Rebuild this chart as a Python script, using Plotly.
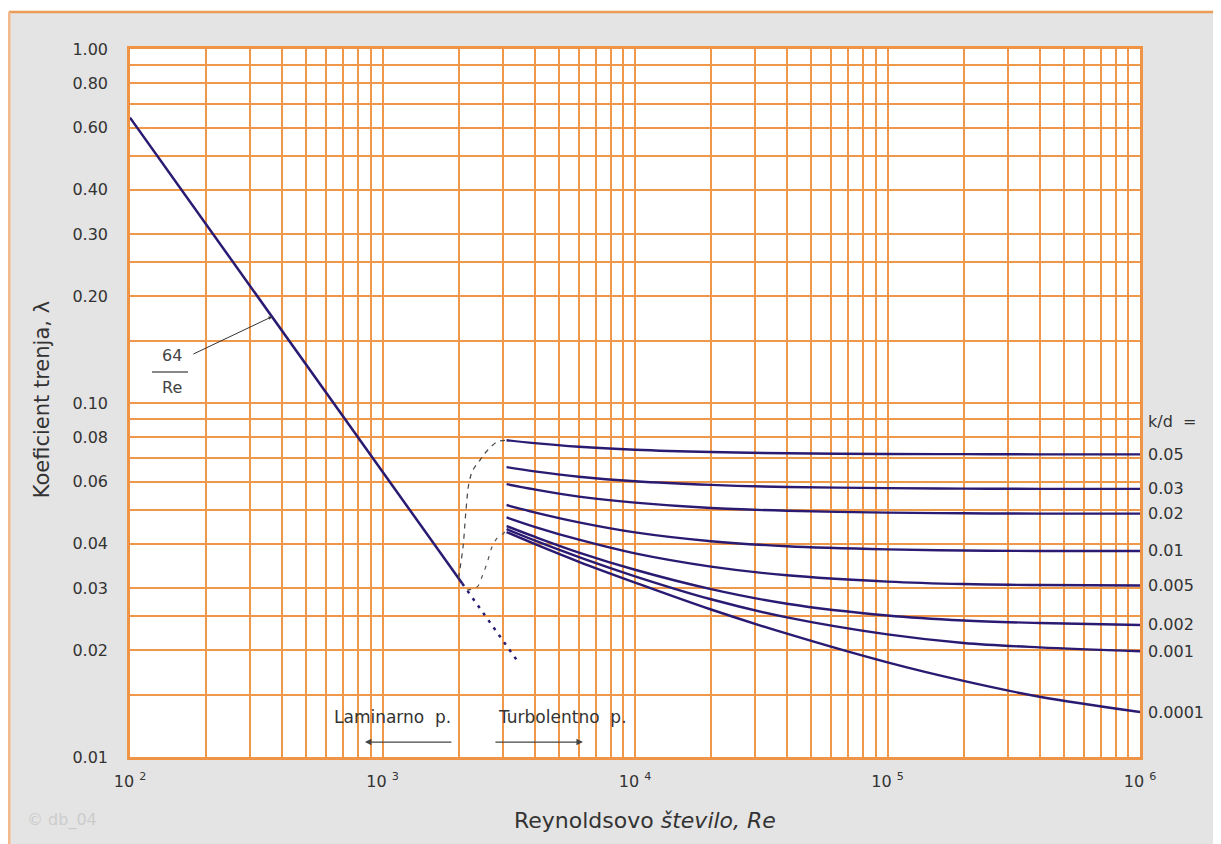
import numpy as np
import plotly.graph_objects as go

# ---------------- data ----------------
re_turb = [3100, 4000, 6000, 1e4, 2e4, 4e4, 1e5, 2e5, 4e5, 1e6]
kd_labels = ["0.05", "0.03", "0.02", "0.01", "0.005", "0.002", "0.001", "0.0001"]
lam_005 = [0.0785, 0.0770, 0.0752, 0.0738, 0.0727, 0.0721, 0.0718, 0.0717, 0.0716, 0.0716]
lam_003 = [0.0659, 0.0641, 0.0619, 0.0601, 0.0587, 0.0579, 0.0575, 0.0573, 0.0572, 0.0572]
lam_002 = [0.0590, 0.0570, 0.0544, 0.0523, 0.0505, 0.0496, 0.0490, 0.0488, 0.0487, 0.0487]
lam_001 = [0.0515, 0.0491, 0.0460, 0.0431, 0.0407, 0.0394, 0.0386, 0.0383, 0.0382, 0.0382]
lam_0005 = [0.0475, 0.0447, 0.0411, 0.0376, 0.0345, 0.0326, 0.0313, 0.0308, 0.0306, 0.0305]
lam_0002 = [0.0449, 0.0419, 0.0378, 0.0338, 0.0298, 0.0271, 0.0251, 0.0243, 0.0239, 0.0236]
lam_0001 = [0.0440, 0.0409, 0.0367, 0.0324, 0.0279, 0.0248, 0.0222, 0.0210, 0.0204, 0.0199]
lam_00001 = [0.0432, 0.0400, 0.0356, 0.0311, 0.0261, 0.0223, 0.0185, 0.0164, 0.0148, 0.0134]
turb_series = [lam_005, lam_003, lam_002, lam_001, lam_0005, lam_0002, lam_0001, lam_00001]

re_lam = [100, 2070]
lam_lam = [0.64, 0.0309]
re_lam_ext = [2070, 3400]
lam_lam_ext = [0.0309, 0.0188]

re_trans_a = [2000, 2084, 2141, 2200, 2282, 2433, 2570, 2841, 3100]
lam_trans_a = [0.0320, 0.0392, 0.0498, 0.0594, 0.0647, 0.0690, 0.0727, 0.0776, 0.0785]
re_trans_b = [2160, 2368, 2477, 2594, 2714, 2867, 3001, 3150]
lam_trans_b = [0.0296, 0.0302, 0.0323, 0.0353, 0.0392, 0.0418, 0.0427, 0.0446]

y_tickvals = [0.01, 0.02, 0.03, 0.04, 0.06, 0.08, 0.1, 0.2, 0.3, 0.4, 0.6, 0.8, 1.0]
y_ticktext = ["0.01", "0.02", "0.03", "0.04", "0.06", "0.08", "0.10",
              "0.20", "0.30", "0.40", "0.60", "0.80", "1.00"]
y_grid = [0.015, 0.025, 0.05, 0.07, 0.09, 0.15, 0.25, 0.5, 0.7, 0.9]
x_tickvals = [1e2, 1e3, 1e4, 1e5, 1e6]
x_ticktext = ["10 <sup>2</sup>", "10 <sup>3</sup>", "10 <sup>4</sup>", "10 <sup>5</sup>", "10 <sup>6</sup>"]
x_grid = [k * 10 ** n for n in range(2, 6) for k in range(2, 10)]

# ---------------- style ----------------
FONT = "DejaVu Sans, sans-serif"
NAVY = "#2a1a72"
ORANGE = "#f0984a"
TXT = "#333333"

fig = go.Figure()

fig.add_trace(go.Scatter(x=re_lam, y=lam_lam, mode="lines",
                         line=dict(color=NAVY, width=2.5), hoverinfo="skip"))
fig.add_trace(go.Scatter(x=re_lam_ext, y=lam_lam_ext, mode="lines",
                         line=dict(color=NAVY, width=2.5, dash="3px,6px"), hoverinfo="skip"))
fig.add_trace(go.Scatter(x=re_trans_a, y=lam_trans_a, mode="lines", line_shape="spline",
                         line=dict(color="#444444", width=1.2, dash="5px,5px"), hoverinfo="skip"))
fig.add_trace(go.Scatter(x=re_trans_b, y=lam_trans_b, mode="lines", line_shape="spline",
                         line=dict(color="#555555", width=1.2, dash="4px,6px"), hoverinfo="skip"))
for lam in turb_series:
    fig.add_trace(go.Scatter(x=re_turb, y=lam, mode="lines", line_shape="spline",
                             line=dict(color=NAVY, width=2.4), hoverinfo="skip"))

annotations = []
# right labels
annotations.append(dict(xref="paper", yref="y", x=1.006, y=np.log10(0.0885), text="k/d  =",
                        showarrow=False, xanchor="left", yanchor="middle",
                        font=dict(family=FONT, size=16, color=TXT)))
for lab, lam in zip(kd_labels, turb_series):
    annotations.append(dict(xref="paper", yref="y", x=1.006, y=np.log10(lam[-1]), text=lab,
                            showarrow=False, xanchor="left", yanchor="middle",
                            font=dict(family=FONT, size=16, color=TXT)))
# 64/Re fraction
annotations.append(dict(xref="x", yref="y", x=np.log10(146), y=np.log10(0.1365), text="64",
                        showarrow=False, font=dict(family=FONT, size=16, color="#444444")))
annotations.append(dict(xref="x", yref="y", x=np.log10(146), y=np.log10(0.1103), text="Re",
                        showarrow=False, font=dict(family=FONT, size=16, color="#444444")))
annotations.append(dict(xref="x", yref="y", x=np.log10(365), y=np.log10(64 / 365), text=" ",
                        showarrow=True, ax=-82, ay=39, arrowhead=2, arrowsize=0.7,
                        arrowwidth=1, arrowcolor="#333333", standoff=0))
# laminar / turbulent
annotations.append(dict(xref="x", yref="y", x=np.log10(1100), y=np.log10(0.01297),
                        text="Laminarno  p.", showarrow=False,
                        font=dict(family=FONT, size=17, color=TXT)))
annotations.append(dict(xref="x", yref="y", x=np.log10(5140), y=np.log10(0.01297),
                        text="Turbolentno  p.", showarrow=False,
                        font=dict(family=FONT, size=17, color=TXT)))
annotations.append(dict(xref="x", yref="y", x=np.log10(852), y=np.log10(0.01102), text=" ",
                        showarrow=True, ax=90, ay=0, arrowhead=2, arrowsize=1.0,
                        arrowwidth=1.3, arrowcolor="#444444", standoff=0))
annotations.append(dict(xref="x", yref="y", x=np.log10(6220), y=np.log10(0.01102), text=" ",
                        showarrow=True, ax=-91, ay=0, arrowhead=2, arrowsize=1.0,
                        arrowwidth=1.3, arrowcolor="#444444", standoff=0))
# axis titles
annotations.append(dict(xref="paper", yref="paper", x=0.51, y=-0.089, yanchor="middle",
                        text="Reynoldsovo <i>število, Re</i>", showarrow=False,
                        font=dict(family=FONT, size=22, color=TXT)))
annotations.append(dict(xref="paper", yref="paper", x=-0.087, y=0.504, xanchor="center",
                        text="Koeficient trenja, λ", showarrow=False, textangle=-90,
                        font=dict(family=FONT, size=21, color=TXT)))
annotations.append(dict(xref="paper", yref="paper", x=-0.104, y=-0.089, xanchor="left",
                        yanchor="middle", text="© db_04", showarrow=False,
                        font=dict(family=FONT, size=16, color="#cccccc")))

shapes = [
    # white strip above the grey frame
    dict(type="rect", xref="paper", yref="paper", x0=-0.2, x1=1.2, y0=1.0523, y1=1.2,
         fillcolor="white", line_width=0, layer="below"),
    # frame lines
    dict(type="line", xref="paper", yref="paper", x0=-0.1198, x1=1.2, y0=1.0523, y1=1.0523,
         line=dict(color="#eb9b55", width=2.5)),
    dict(type="line", xref="paper", yref="paper", x0=-0.1198, x1=-0.1198, y0=-0.2, y1=1.0523,
         line=dict(color="#f3b98a", width=3)),
    # fraction bar
    dict(type="line", xref="paper", yref="paper", x0=0.0218, x1=0.0574, y0=0.5438, y1=0.5438,
         line=dict(color="#888888", width=2)),
]

# page body has an 8px margin; compensate so the plot area lands at (130,49)-(1140,757)
fig.update_layout(
    width=1213, height=836,
    margin=dict(l=122, r=81, t=41, b=87),
    paper_bgcolor="#e4e4e4", plot_bgcolor="white",
    showlegend=False,
    font=dict(family=FONT, color=TXT),
    annotations=annotations, shapes=shapes,
    xaxis=dict(type="log", range=[2, 6], tickmode="array", tickvals=x_tickvals,
               ticktext=x_ticktext, showgrid=True, gridcolor=ORANGE, gridwidth=1.6,
               minor=dict(tickmode="array", tickvals=x_grid, showgrid=True,
                          gridcolor=ORANGE, gridwidth=1.6, ticks=""),
               showline=True, linecolor="#ee9444", linewidth=2.5, mirror=True,
               ticks="", zeroline=False, ticklabelstandoff=8,
               tickfont=dict(family=FONT, size=16, color=TXT)),
    yaxis=dict(type="log", range=[-2, 0], tickmode="array", tickvals=y_tickvals,
               ticktext=y_ticktext, showgrid=True, gridcolor=ORANGE, gridwidth=1.6,
               minor=dict(tickmode="array", tickvals=y_grid, showgrid=True,
                          gridcolor=ORANGE, gridwidth=1.6, ticks=""),
               showline=True, linecolor="#ee9444", linewidth=2.5, mirror=True,
               ticks="", zeroline=False, ticklabelstandoff=16,
               tickfont=dict(family=FONT, size=16, color=TXT)),
)

fig.write_html("out.html")
